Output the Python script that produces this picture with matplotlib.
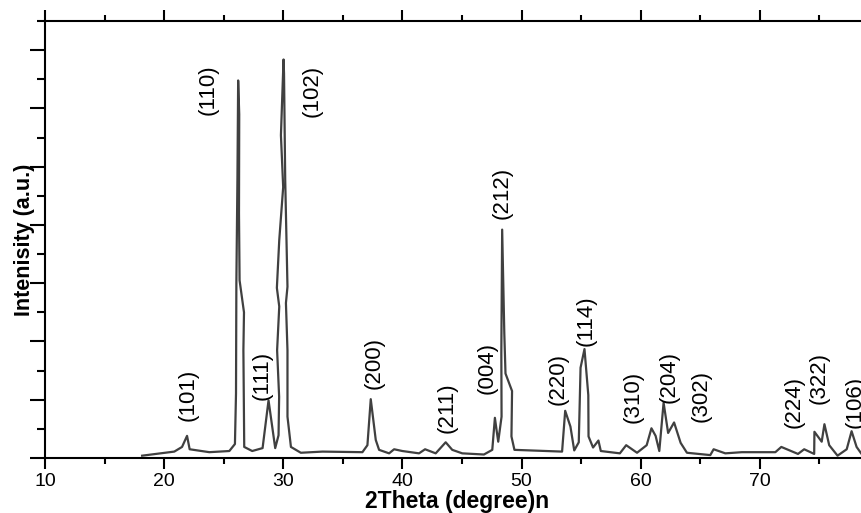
import matplotlib
matplotlib.use("Agg")
import matplotlib.pyplot as plt
from matplotlib.ticker import MultipleLocator

# -----------------------------
# XRD pattern
# -----------------------------
two_theta = [18.15, 20.85, 21.5, 21.92, 22.14, 23.79, 25.47, 25.94,
             26.03, 26.06, 26.15, 26.21, 26.3, 26.28, 26.33, 26.7, 26.65, 26.72,
             27.39, 28.26, 28.76, 29.32,
             29.6, 29.65, 29.48, 29.66, 29.46, 29.66, 29.99, 29.8, 30.02,
             30.06, 30.16, 30.35, 30.22, 30.35, 30.35, 30.64,
             31.47, 33.29, 36.64, 37.06, 37.34, 37.76, 38.04, 38.88, 39.3,
             39.99, 41.39, 41.9, 42.79, 43.63, 44.18, 45.02, 46.84,
             47.54, 47.76, 47.9, 48.04, 48.32, 48.3, 48.37, 48.55, 48.65,
             49.2, 49.15, 49.4, 53.4, 53.66, 54.1, 54.42, 54.8, 54.95, 55.28,
             55.6, 55.62, 56.0, 56.45, 56.65, 58.25, 58.78, 59.69, 60.5,
             60.9, 61.25, 61.56, 61.92, 62.3, 62.8, 63.35, 63.88, 65.84,
             66.12, 67.1, 68.49, 71.3, 71.8, 73.2, 73.72, 74.56, 74.58,
             75.19, 75.42, 75.82, 76.52, 77.29, 77.7, 78.12, 78.5]
intensity = [4, 11, 19, 38, 15, 10, 12, 24,
             111, 300, 480, 648, 590, 420, 305, 250, 185, 19,
             12, 17, 99, 17,
             39, 105, 185, 260, 292, 374, 465, 554, 684,
             660, 477, 294, 266, 185, 71, 19,
             9, 11, 10, 22, 101, 31, 14, 8, 15,
             12, 8, 15, 8, 27, 14, 8, 6,
             14, 69, 48, 28, 71, 180, 392, 214, 145,
             115, 37, 14, 11, 81, 54, 13, 27, 155, 187,
             108, 37, 18, 30, 12, 8, 22, 9, 22,
             51, 38, 12, 95, 43, 61, 26, 9, 5,
             15, 8, 10, 10, 19, 7, 15, 7, 45,
             28, 58, 22, 4, 15, 46, 19, 8]

# peak indices and where their labels sit
hkl = ["(101)", "(110)", "(111)", "(102)", "(200)", "(211)", "(004)", "(212)",
       "(220)", "(114)", "(310)", "(204)", "(302)", "(224)", "(322)", "(106)"]
label_x = [22.03, 23.70, 28.23, 32.42, 37.62, 43.74, 47.09, 48.35,
           53.04, 55.39, 59.33, 62.35, 65.11, 72.91, 75.0, 78.02]
label_y = [108, 633, 142, 630, 163, 86, 154, 455,
           136, 235, 105, 139, 106, 96, 137, 96]

x_ticks = [10, 20, 30, 40, 50, 60, 70, 80]
x_tick_labels = ["10", "20", "30", "40", "50", "60", "70", ""]

plt.rcParams["font.family"] = ["Liberation Sans", "DejaVu Sans"]

fig = plt.figure(figsize=(8.61, 5.13), dpi=100)
ax = fig.add_axes([0.0523, 0.1072, 0.9686, 0.8518])

ax.plot(two_theta, intensity, color="#404040", linewidth=1.6)

for t, x, y in zip(hkl, label_x, label_y):
    ax.text(x, y, t, rotation=90, ha="center", va="center", fontsize=16)

# -----------------------------
# Axes formatting
# -----------------------------
ax.set_xlim(10, 80)
ax.set_ylim(0, 750)
ax.set_xticks(x_ticks, x_tick_labels)
ax.xaxis.set_minor_locator(MultipleLocator(5))
ax.yaxis.set_major_locator(MultipleLocator(100))
ax.yaxis.set_minor_locator(MultipleLocator(50))

ax.spines["right"].set_visible(False)
for s in ("left", "bottom", "top"):
    ax.spines[s].set_linewidth(1.5)

ax.tick_params(axis="x", which="major", direction="out", length=8, width=1.5,
               top=True, labelsize=14, pad=3)
ax.tick_params(axis="x", which="minor", direction="out", length=4, width=1.5, top=True)
ax.tick_params(axis="y", which="major", direction="out", length=11, width=1.5,
               labelleft=False)
ax.tick_params(axis="y", which="minor", direction="out", length=6, width=1.5)

# x label sits tight against the bottom edge
fig.text(0.531, 0.01, "2Theta (degree)n", fontsize=16.5, fontweight="bold",
         ha="center", va="baseline")
ax.set_ylabel("Intenisity (a.u.)", fontsize=15.5, fontweight="bold", labelpad=-4)

fig.savefig("out.png", dpi=100)
